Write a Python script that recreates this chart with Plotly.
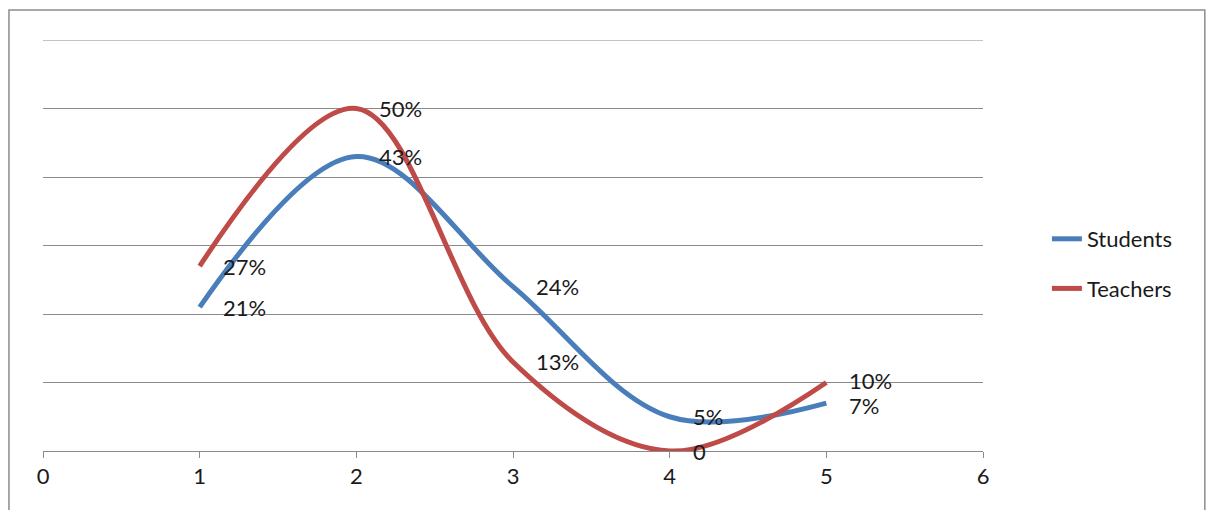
import plotly.graph_objects as go

# Survey results by rating level
levels = [1, 2, 3, 4, 5]
students = [21, 43, 24, 5, 7]
teachers = [27, 50, 13, 0, 10]
student_labels = ["21%", "43%", "24%", "5%", "7%"]
teacher_labels = ["27%", "50%", "13%", "0", "10%"]
x_ticks = [0, 1, 2, 3, 4, 5, 6]

BLUE = "#4a7ebb"
RED = "#be4b48"
GRID = "#8a8a8a"
FONT = "Lato"
SIZE = 22
Y_MAX = 60

fig = go.Figure()

for name, values, color, group in [
    ("Students", students, BLUE, "s"),
    ("Teachers", teachers, RED, "t"),
]:
    fig.add_trace(go.Scatter(
        x=levels, y=values, name=name, mode="lines",
        line=dict(color=color, width=5, shape="spline", smoothing=1.0),
        legendgroup=group, cliponaxis=False,
    ))

# Value labels sit just right of each point; the two end labels are nudged apart
for values, labels, nudge in [(students, student_labels, -2), (teachers, teacher_labels, 2)]:
    for i, (xv, yv, txt) in enumerate(zip(levels, values, labels)):
        fig.add_annotation(
            x=xv, y=yv, text=txt, showarrow=False,
            xanchor="left", yanchor="middle", xshift=21,
            yshift=nudge if i == len(levels) - 1 else 0,
            font=dict(family=FONT, size=SIZE, color="#1a1a1a"),
        )

# Top gridline sits on the edge of the plot area
fig.add_shape(
    type="line", xref="paper", yref="y", x0=0, x1=1, y0=Y_MAX, y1=Y_MAX,
    line=dict(color=GRID, width=1), layer="below",
)

# Chart-area frame
fig.add_shape(
    type="rect", xref="paper", yref="paper",
    x0=-0.0362, x1=1.236, y0=-0.3, y1=1.073,
    line=dict(color="#8c8c8c", width=1.5), layer="below",
)

fig.update_layout(
    width=1207, height=510,
    margin=dict(l=43, r=224, t=40, b=59),
    paper_bgcolor="white", plot_bgcolor="white",
    font=dict(family=FONT, size=SIZE, color="#1a1a1a"),
    showlegend=True,
    legend=dict(
        x=1.068, y=0.455, xanchor="left", yanchor="middle",
        font=dict(family=FONT, size=SIZE, color="#1a1a1a"),
        traceorder="grouped", tracegroupgap=18,
        bgcolor="rgba(0,0,0,0)",
    ),
    xaxis=dict(
        range=[0, 6], tickvals=x_ticks, showgrid=False, zeroline=False,
        showline=True, linecolor=GRID, linewidth=1,
        ticks="outside", ticklen=6, tickcolor=GRID,
        tickfont=dict(family=FONT, size=SIZE, color="#1a1a1a"),
    ),
    yaxis=dict(
        range=[0, Y_MAX], dtick=10, showgrid=True, gridcolor=GRID, gridwidth=1,
        showticklabels=False, zeroline=False, showline=False,
    ),
)

fig.write_html("out.html")
